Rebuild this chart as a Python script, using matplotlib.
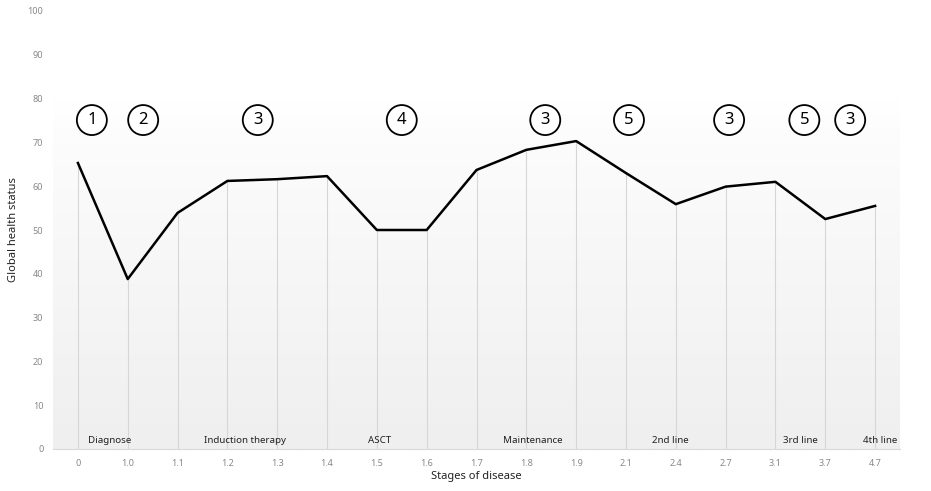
import numpy as np
import matplotlib
matplotlib.use("Agg")
import matplotlib.pyplot as plt

plt.rcParams['font.family'] = ['Noto Sans', 'DejaVu Sans']

# stages on the x axis and global health status values
stages = ['0', '1.0', '1.1', '1.2', '1.3', '1.4', '1.5', '1.6', '1.7',
          '1.8', '1.9', '2.1', '2.4', '2.7', '3.1', '3.7', '4.7']
health = [65.3, 38.8, 53.9, 61.2, 61.6, 62.3, 50.0, 50.0, 63.7,
          68.3, 70.3, 63.0, 55.9, 59.9, 61.0, 52.5, 55.5]

# phase labels along the bottom and their positions (category index)
phase_names = ['Diagnose', 'Induction therapy', 'ASCT', 'Maintenance',
               '2nd line', '3rd line', '4th line']
phase_pos = [0.64, 3.35, 6.06, 9.12, 11.9, 14.5, 16.1]

# circled markers above the line
marker_nums = ['1', '2', '3', '4', '3', '5', '3', '5', '3']
marker_pos = [0.28, 1.31, 3.61, 6.5, 9.38, 11.06, 13.07, 14.58, 15.5]
marker_y = 75.1

x = np.arange(len(stages))

fig = plt.figure(figsize=(9.31, 4.91), dpi=100)
ax = fig.add_axes([53 / 931, 1 - 449 / 491, 847 / 931, 438 / 491])

ax.set_xlim(-0.5, len(stages) - 0.5)
ax.set_ylim(0, 100)

# soft white-to-grey background gradient (white at the top)
bg = matplotlib.colors.LinearSegmentedColormap.from_list(
    'bg', [(0.0, '#ffffff'), (0.2, '#ffffff'), (0.3, '#fcfcfc'), (1.0, '#efefef')])
grad = np.linspace(0.0, 1.0, 256).reshape(-1, 1)
ax.imshow(grad, extent=[-0.5, len(stages) - 0.5, 0, 100], aspect='auto',
          cmap=bg, origin='upper', zorder=0)

ax.vlines(x, 0, health, color='#d6d6d6', lw=0.8, zorder=1)
ax.plot(x, health, color='black', lw=1.8, zorder=3)

for name, p in zip(phase_names, phase_pos):
    ax.text(p, 1.9, name, ha='center', va='center', fontsize=7, color='#222222', zorder=4)

for n, p in zip(marker_nums, marker_pos):
    ax.text(p, marker_y, n, ha='center', va='center', fontsize=12, color='black',
            bbox=dict(boxstyle='circle,pad=0.42', fc='white', ec='black', lw=1.3), zorder=5)

ax.set_xticks(x)
ax.set_xticklabels(stages)
ax.set_yticks(np.arange(0, 101, 10))
ax.tick_params(axis='both', length=0, labelsize=6.5, labelcolor='#888888')
ax.tick_params(axis='x', pad=7)
ax.tick_params(axis='y', pad=7)

for s in ['top', 'right', 'left']:
    ax.spines[s].set_visible(False)
ax.spines['bottom'].set_color('#d9d9d9')

ax.set_xlabel('Stages of disease', fontsize=8, color='#222222', labelpad=2)
ax.set_ylabel('Global health status', fontsize=8, color='#222222', labelpad=6)

fig.savefig('out.png', dpi=100)
